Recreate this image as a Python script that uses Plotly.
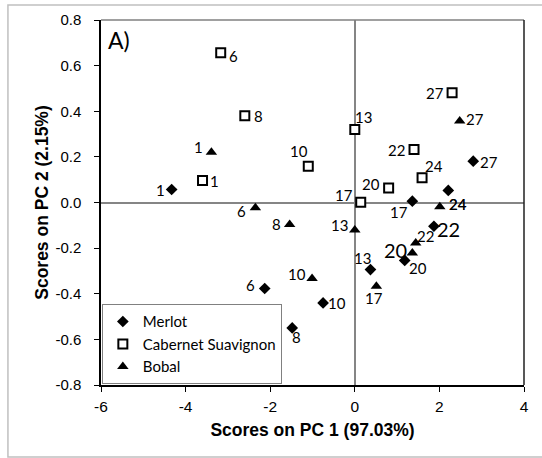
import plotly.graph_objects as go

# PCA scores of the wine samples (sampling day labels)
samples = [1, 6, 8, 10, 13, 17, 20, 22, 24, 27]

merlot_pc1 = [-4.33, -2.13, -1.48, -0.75, 0.37, 1.36, 1.18, 1.87, 2.21, 2.80]
merlot_pc2 = [0.057, -0.377, -0.55, -0.44, -0.294, 0.006, -0.254, -0.104, 0.053, 0.181]

cabernet_pc1 = [-3.60, -3.17, -2.60, -1.10, 0.0, 0.14, 0.80, 1.40, 1.59, 2.30]
cabernet_pc2 = [0.096, 0.656, 0.38, 0.159, 0.32, 0.001, 0.064, 0.232, 0.108, 0.481]

bobal_pc1 = [-3.39, -2.35, -1.54, -1.01, 0.0, 0.51, 1.36, 1.44, 2.01, 2.48]
bobal_pc2 = [0.22, -0.023, -0.096, -0.333, -0.121, -0.367, -0.221, -0.177, -0.019, 0.357]

x_ticks = [-6, -4, -2, 0, 2, 4]
y_ticks = [-0.8, -0.6, -0.4, -0.2, 0.0, 0.2, 0.4, 0.6, 0.8]

# label placement (pixel offsets right / down from each marker) and size
merlot_lbl = [(-11, 0, 15), (-14, -4, 15), (4, 9, 15), (14, 0, 15), (-8, -12, 15),
              (-13, 11, 15), (13, 8, 15), (15, 3, 20), (9.7, 13.3, 15), (16, 1, 15)]
cabernet_lbl = [(12, 0, 15), (13, 3, 15), (14, 0, 15), (-9, -15, 15), (9, -13, 15),
                (-17, -7, 15), (-18, -4, 15), (-18, 0, 15), (12, -12, 15), (-17, 0, 15)]
bobal_lbl = [(-13, -5, 15), (-14, 3, 15), (-13, 0, 15), (-15, -4, 15), (-15, -5, 15),
             (-2, 12, 15), (-17, -3, 20), (10, -7, 15), (18, -3, 15), (15, -2, 15)]

LABEL_FONT = "Lato"
AXIS_FONT = "Liberation Sans"

fig = go.Figure()

series = [
    ("Merlot", merlot_pc1, merlot_pc2, dict(symbol="diamond", size=9, color="black",
                                             line=dict(width=0))),
    ("Cabernet Suavignon", cabernet_pc1, cabernet_pc2,
     dict(symbol="square", size=9, color="white", line=dict(color="black", width=2))),
    ("Bobal", bobal_pc1, bobal_pc2, dict(symbol="triangle-up", size=10, color="black",
                                         line=dict(width=0))),
]
for name, xs, ys, marker in series:
    fig.add_trace(go.Scatter(x=xs, y=ys, mode="markers", name=name, marker=marker,
                             cliponaxis=False))

annotations = []
for xs, ys, lbls in [(merlot_pc1, merlot_pc2, merlot_lbl),
                     (cabernet_pc1, cabernet_pc2, cabernet_lbl),
                     (bobal_pc1, bobal_pc2, bobal_lbl)]:
    for s, xv, yv, (dx, dy, fs) in zip(samples, xs, ys, lbls):
        annotations.append(dict(x=xv, y=yv, xref="x", yref="y", text=str(s),
                                showarrow=False, xshift=dx, yshift=-dy,
                                font=dict(family=LABEL_FONT, size=fs, color="black")))

annotations.append(dict(x=0.012, y=0.945, xref="paper", yref="paper", text="A)",
                        showarrow=False, xanchor="left", yanchor="middle",
                        font=dict(family=LABEL_FONT, size=23, color="black")))

fig.update_layout(
    width=542, height=458,
    margin=dict(l=101, r=18, t=20, b=73),
    paper_bgcolor="white", plot_bgcolor="white",
    annotations=annotations,
    legend=dict(x=0.002, y=0.002, xanchor="left", yanchor="bottom",
                bordercolor="#808080", borderwidth=1, bgcolor="white",
                font=dict(family=LABEL_FONT, size=15, color="black"),
                tracegroupgap=0, itemwidth=30),
    shapes=[
        # outer frame
        dict(type="rect", xref="paper", yref="paper", x0=-0.22, x1=1.05,
             y0=-0.197, y1=1.041, line=dict(color="#c0c0c0", width=1.5), layer="below"),
        # top and right edges of the plotting area
        dict(type="line", xref="paper", yref="paper", x0=0, x1=1, y0=1, y1=1,
             line=dict(color="#808080", width=1.5)),
        dict(type="line", xref="paper", yref="paper", x0=1, x1=1, y0=0, y1=1,
             line=dict(color="#202020", width=1.5)),
    ],
)

fig.update_xaxes(
    range=[-6, 4], tickvals=x_ticks, ticktext=[str(v) for v in x_ticks],
    showgrid=False, zeroline=True, zerolinecolor="#858585", zerolinewidth=1.5,
    showline=True, linecolor="black", linewidth=1.5,
    ticks="outside", ticklen=5, tickcolor="black", tickwidth=1, ticklabelstandoff=2,
    tickfont=dict(family=AXIS_FONT, size=15.5, color="black"),
    title=dict(text="<b>Scores on PC 1 (97.03%)</b>", standoff=9,
               font=dict(family=AXIS_FONT, size=17.5, color="black")),
)
fig.update_yaxes(
    range=[-0.8, 0.8], tickvals=y_ticks, ticktext=[f"{v:.1f}" for v in y_ticks],
    showgrid=False, zeroline=True, zerolinecolor="#858585", zerolinewidth=1.5,
    showline=True, linecolor="black", linewidth=1.5,
    ticks="outside", ticklen=5, tickcolor="black", tickwidth=1, ticklabelstandoff=10,
    tickfont=dict(family=AXIS_FONT, size=15, color="black"),
    title=dict(text="<b>Scores on PC 2 (2.15%)</b>", standoff=2,
               font=dict(family=AXIS_FONT, size=17.5, color="black")),
)

fig.write_html("out.html")
